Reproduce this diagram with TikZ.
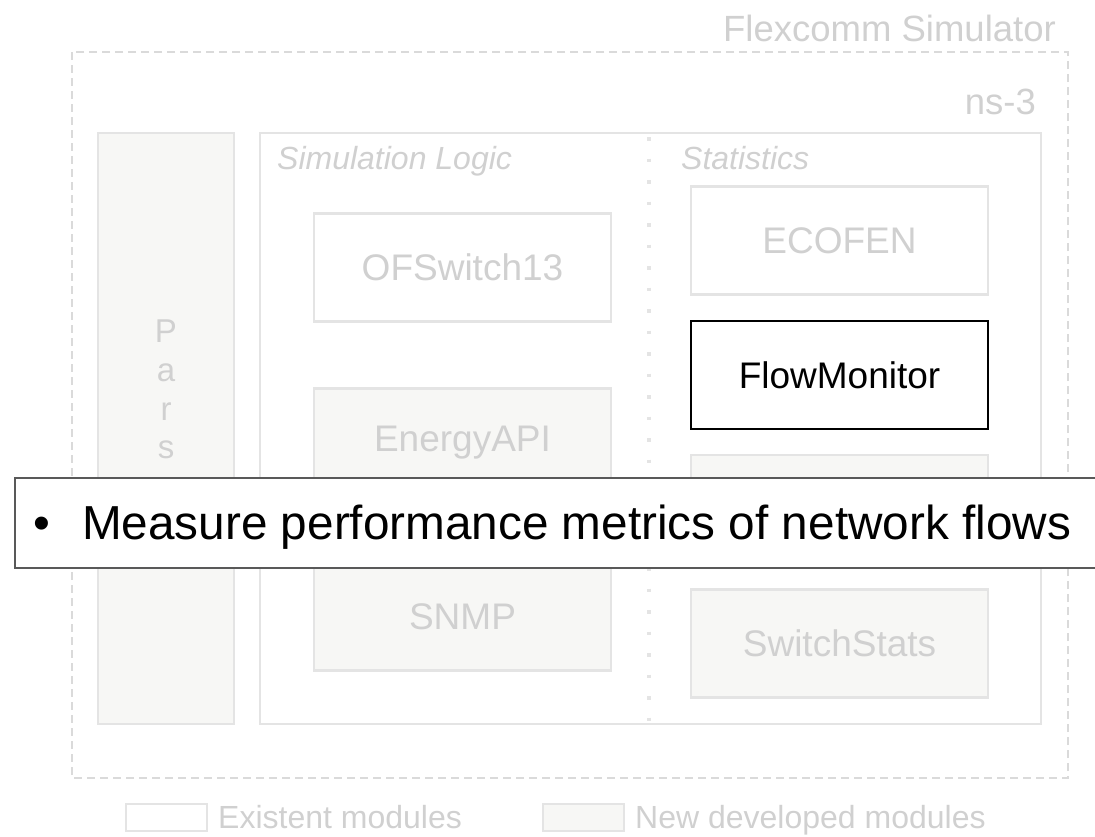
\documentclass[tikz,border=0pt]{standalone}
\usepackage{fontspec}
\setmainfont{Liberation Sans}

\definecolor{txtgray}{RGB}{208,208,208}
\definecolor{edgegray}{RGB}{228,228,228}
\definecolor{fillgray}{RGB}{247,247,245}
\definecolor{dashgray}{RGB}{218,218,218}

\begin{document}
\begin{tikzpicture}[x=1pt,y=-1pt,
    module/.style={draw=edgegray,line width=2.5pt,fill=white,text=txtgray,inner sep=0pt,
        minimum width=297pt,minimum height=108pt,font=\fontsize{37}{44}\selectfont},
    newmodule/.style={module,fill=fillgray},
    caption/.style={text=txtgray,inner sep=0pt,anchor=base west,font=\fontsize{32}{38}\selectfont\itshape},
    legendtext/.style={text=txtgray,inner sep=0pt,anchor=base west,font=\fontsize{32}{38}\selectfont},
    title/.style={text=txtgray,inner sep=0pt,anchor=base east,font=\fontsize{36.5}{43}\selectfont}]
    \useasboundingbox (0,0) rectangle (1095,836);

    % Flexcomm frame
    \draw[dashgray,line width=2pt,dash pattern=on 8pt off 5pt] (72,52) rectangle (1068,778);
    \node[title] (flexcomm) at (1056,41) {Flexcomm Simulator};
    \node[title] (nsthree) at (1036,114) {ns-3};

    % parser column, the rest of the word is under the callout
    \node[newmodule,minimum width=136pt,minimum height=591pt] (pars) at (166,428.5) {};
    \foreach \l/\y in {P/342,a/381,r/420,s/458}
        \node[text=txtgray,inner sep=0pt,anchor=base,font=\fontsize{33}{38}\selectfont] (pars-\l) at (166,\y) {\l};

    % ns-3 box with its two halves
    \node[module,minimum width=781pt,minimum height=591pt] (nsbox) at (650.5,428.5) {};
    \draw[edgegray,line width=3.5pt,dash pattern=on 3.5pt off 18pt] (649,137) -- (649,722);
    \node[caption] (simlogic) at (277,169) {Simulation Logic};
    \node[caption] (stats) at (681,169) {Statistics};

    % simulation logic modules
    \node[module] (ofswitch) at (462.5,267.5) {OFSwitch13};
    \node[newmodule] (energyapi) at (462.5,442.5) {EnergyAPI};
    \node[newmodule] (snmp) at (462.5,616.5) {SNMP};

    % statistics modules
    \node[module] (ecofen) at (839.5,240.5) {ECOFEN};
    \node[module,draw=black,text=black] (flowmonitor) at (839.5,375) {FlowMonitor};
    \node[newmodule] (covered) at (839.5,509) {};
    \node[newmodule] (switchstats) at (839.5,643.5) {SwitchStats};

    % legend
    \node[draw=edgegray,line width=2.5pt,fill=white,minimum width=81pt,minimum height=27pt,inner sep=0pt] (legold) at (166.5,817.5) {};
    \node[legendtext] (legoldtext) at (218,828) {Existent modules};
    \node[draw=edgegray,line width=2.5pt,fill=fillgray,minimum width=81pt,minimum height=27pt,inner sep=0pt] (legnew) at (583.5,817.5) {};
    \node[legendtext] (legnewtext) at (635,828) {New developed modules};

    % callout over the picture
    \node[draw=black!65,line width=2pt,fill=white,minimum width=1100pt,minimum height=90pt,inner sep=0pt,anchor=north west] (callout) at (14,477) {};
    \node[inner sep=0pt,anchor=base,font=\fontsize{48}{57}\selectfont] (bullet) at (42,539) {\textbullet};
    \node[inner sep=0pt,anchor=base west,font=\fontsize{47.7}{57}\selectfont] (callouttext) at (82,539) {Measure performance metrics of network flows};
\end{tikzpicture}
\end{document}
